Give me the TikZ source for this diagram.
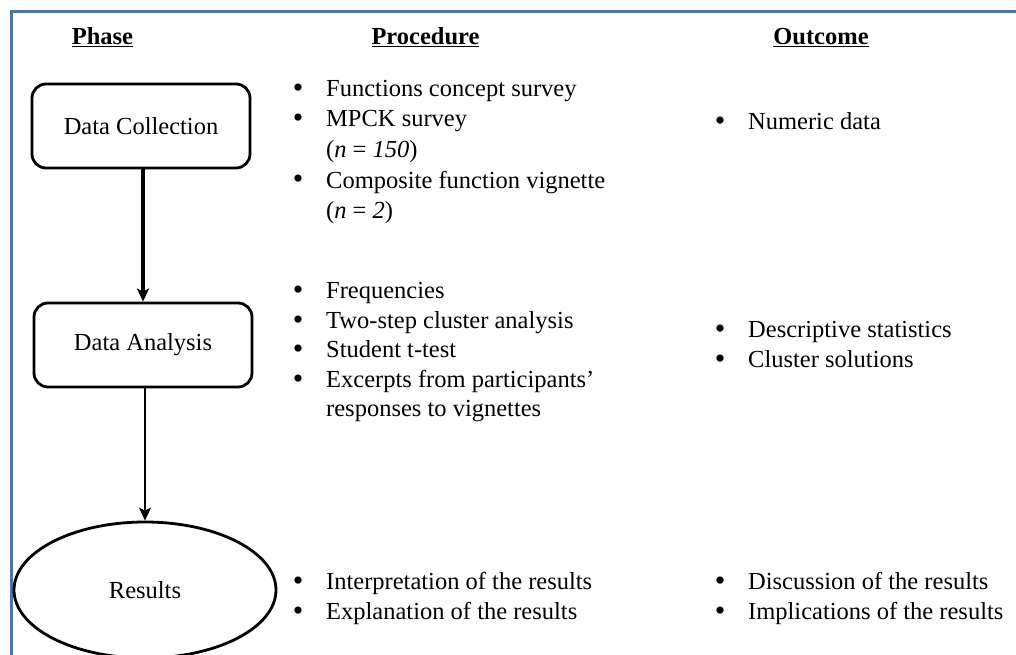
\documentclass[tikz,border=0pt]{standalone}
\usepackage{fontspec}
\setmainfont{Liberation Serif}
\usetikzlibrary{shapes.geometric,arrows.meta}
\definecolor{frameblue}{HTML}{4472C4}
\tikzset{
  txt/.style={anchor=base west,inner sep=0pt,font=\fontsize{24.5}{30}\selectfont},
  bul/.style={anchor=base,inner sep=0pt,font=\fontsize{30}{30}\selectfont},
  head/.style={anchor=base,inner sep=0pt,font=\fontsize{24.5}{30}\selectfont\bfseries},
  phasebox/.style={draw,line width=2.8pt,rounded corners=14pt,minimum width=218pt,minimum height=84pt,inner sep=0pt,font=\fontsize{24.5}{30}\selectfont},
  phaseell/.style={draw,ellipse,line width=2.8pt,minimum width=262pt,minimum height=136pt,inner sep=0pt,font=\fontsize{24.5}{30}\selectfont},
  flow/.style={-{Stealth[length=13pt,width=12pt,inset=3pt]}}
}
\begin{document}
\begin{tikzpicture}[x=1pt,y=-1pt]
\useasboundingbox (0,0) rectangle (1016,655);
\draw[frameblue,line width=3.8pt] (11.5,655) -- (11.5,11.5) -- (1016,11.5);
% headers
\node[head] (hph) at (102.5,45) {\underline{Phase}};
\node[head] (hpr) at (425.5,45) {\underline{Procedure}};
\node[head] (hou) at (821,45) {\underline{Outcome}};
% phases
\node[phasebox] (dc) at (141,126) {Data Collection};
\node[phasebox] (da) at (143,345) {Data Analysis};
\node[phaseell] (rs) at (145,590) {Results};
\draw[flow,line width=3.2pt] (dc.south -| 143,0) -- (da.north -| 143,0);
\draw[flow,line width=1.8pt] (da.south -| 145,0) -- (rs.north);
% procedure group 1
\node[bul] (b1) at (298,98) {•};
\node[txt] (p1) at (326,97) {Functions concept survey};
\node[bul] (b2) at (298,128) {•};
\node[txt] (p2) at (326,127) {MPCK survey};
\node[txt] (p3) at (326,157.5) {(\textit{n} = \textit{150})};
\node[bul] (b4) at (298,189) {•};
\node[txt] (p4) at (326,188) {Composite function vignette};
\node[txt] (p5) at (326,218.5) {(\textit{n} = \textit{2})};
% procedure group 2
\node[bul] (b6) at (298,299) {•};
\node[txt] (p6) at (326,298) {Frequencies};
\node[bul] (b7) at (298,329) {•};
\node[txt] (p7) at (326,328) {Two-step cluster analysis};
\node[bul] (b8) at (298,358.5) {•};
\node[txt] (p8) at (326,357.5) {Student t-test};
\node[bul] (b9) at (298,388) {•};
\node[txt] (p9) at (326,387) {Excerpts from participants’};
\node[txt] (p10) at (326,416) {responses to vignettes};
% procedure group 3
\node[bul] (b11) at (298,590) {•};
\node[txt] (p11) at (326,589) {Interpretation of the results};
\node[bul] (b12) at (298,620) {•};
\node[txt] (p12) at (326,619) {Explanation of the results};
% outcomes
\node[bul] (c1) at (720,131) {•};
\node[txt] (o1) at (748,130) {Numeric data};
\node[bul] (c2) at (720,338) {•};
\node[txt] (o2) at (748,337) {Descriptive statistics};
\node[bul] (c3) at (720,368) {•};
\node[txt] (o3) at (748,367) {Cluster solutions};
\node[bul] (c4) at (720,590) {•};
\node[txt] (o4) at (748,589) {Discussion of the results};
\node[bul] (c5) at (720,620) {•};
\node[txt] (o5) at (748,619) {Implications of the results};
\end{tikzpicture}
\end{document}
